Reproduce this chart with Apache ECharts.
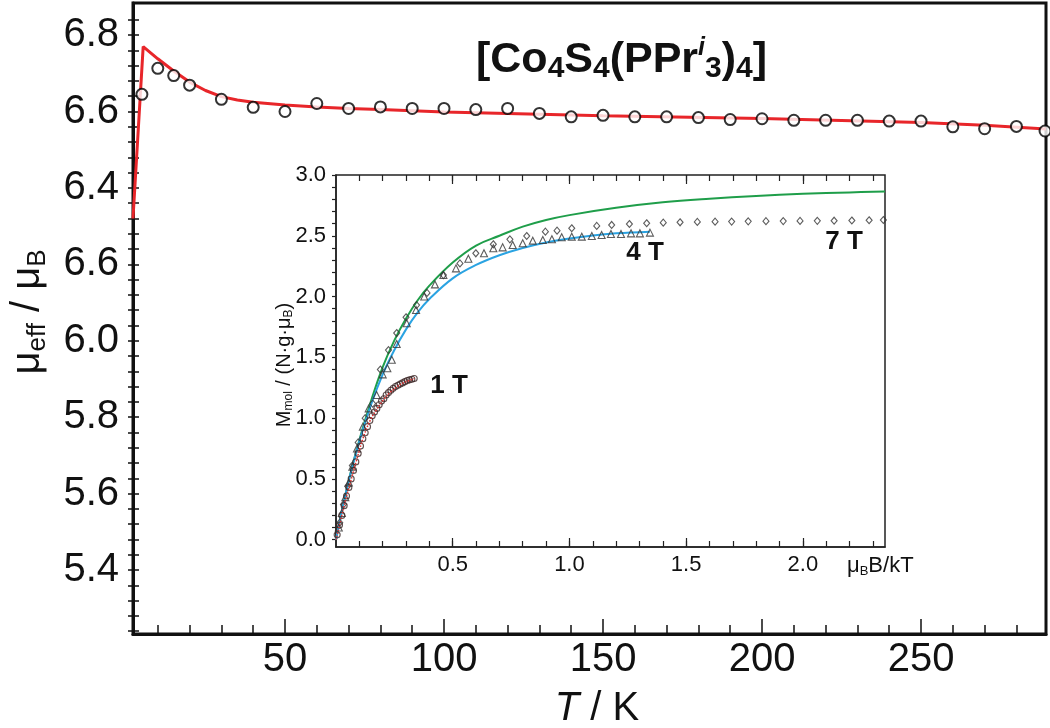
<!DOCTYPE html>
<html><head><meta charset="utf-8">
<script src="https://cdn.jsdelivr.net/npm/echarts@6/dist/echarts.min.js"></script>
<style>html,body{margin:0;padding:0;background:#fff}#c{width:1050px;height:728px}</style>
</head><body><div id="c"></div>
<script>
// ---------- main plot data ----------
const mainT  = [5, 10, 15, 20, 30, 40, 50, 60, 70, 80, 90, 100, 110, 120, 130, 140, 150, 160, 170, 180, 190, 200, 210, 220, 230, 240, 250, 260, 270, 280, 289];
const mainMu = [6.645, 6.713, 6.694, 6.669, 6.632, 6.611, 6.600, 6.621, 6.608, 6.612, 6.608, 6.608, 6.605, 6.608, 6.595, 6.586, 6.590, 6.586, 6.586, 6.584, 6.579, 6.581, 6.577, 6.577, 6.577, 6.575, 6.575, 6.560, 6.555, 6.561, 6.549];
const fitT   = [2.2, 5.4, 10, 15, 20, 25, 30, 35, 40, 50, 60, 70, 80, 100, 120, 150, 200, 250, 270, 289.3];
const fitMu  = [6.32, 6.77, 6.738, 6.706, 6.677, 6.655, 6.639, 6.630, 6.624, 6.617, 6.612, 6.608, 6.605, 6.599, 6.595, 6.589, 6.582, 6.571, 6.564, 6.554];
const mainXLabelValues = [50, 100, 150, 200, 250];
const mainYLabelValues = [5.4, 5.6, 5.8, 6.0, 6.2, 6.4, 6.6, 6.8];
const mainYLabelTexts  = ["5.4", "5.6", "5.8", "6.0", "6.6", "6.4", "6.6", "6.8"];

// ---------- inset data ----------
const data1T = [[0.005,0.04],[0.015,0.12],[0.025,0.2],[0.035,0.28],[0.045,0.36],[0.055,0.43],[0.065,0.5],[0.075,0.57],[0.085,0.64],[0.095,0.71],[0.105,0.77],[0.115,0.83],[0.125,0.88],[0.135,0.93],[0.145,0.98],[0.155,1.02],[0.165,1.05],[0.175,1.08],[0.185,1.11],[0.195,1.14],[0.205,1.16],[0.215,1.19],[0.225,1.21],[0.235,1.23],[0.245,1.245],[0.255,1.26],[0.265,1.27],[0.275,1.28],[0.285,1.29],[0.295,1.3],[0.305,1.31],[0.315,1.315],[0.325,1.32],[0.335,1.326]];
const fit1T  = [[0,0],[0.02,0.16],[0.04,0.32],[0.06,0.46],[0.088,0.653],[0.117,0.84],[0.146,0.98],[0.174,1.07],[0.203,1.15],[0.231,1.21],[0.26,1.255],[0.288,1.29],[0.317,1.312],[0.336,1.326]];
const data4T = [[0.012,0.1],[0.025,0.22],[0.04,0.35],[0.055,0.47],[0.07,0.6],[0.09,0.75],[0.115,0.93],[0.14,1.08],[0.174,1.19],[0.2,1.36],[0.22,1.41],[0.239,1.48],[0.26,1.61],[0.303,1.78],[0.343,1.89],[0.378,2.0],[0.424,2.1],[0.46,2.177],[0.514,2.232],[0.567,2.311],[0.634,2.356],[0.674,2.397],[0.714,2.405],[0.757,2.424],[0.8,2.438],[0.843,2.46],[0.886,2.465],[0.925,2.471],[0.967,2.488],[1.01,2.493],[1.053,2.493],[1.096,2.498],[1.138,2.507],[1.178,2.515],[1.221,2.515],[1.264,2.52],[1.302,2.52],[1.345,2.526]];
const fit4T  = [[0,0],[0.05,0.45],[0.1,0.81],[0.15,1.11],[0.2,1.36],[0.25,1.56],[0.3,1.73],[0.35,1.87],[0.4,1.98],[0.5,2.15],[0.6,2.26],[0.7,2.34],[0.8,2.40],[0.9,2.445],[1.0,2.478],[1.1,2.503],[1.2,2.52],[1.345,2.534]];
const data7T = [[0.016,0.14],[0.032,0.29],[0.05,0.44],[0.07,0.61],[0.095,0.8],[0.125,1.0],[0.157,1.12],[0.19,1.4],[0.225,1.56],[0.26,1.7],[0.3,1.83],[0.345,1.93],[0.39,2.03],[0.46,2.177],[0.531,2.273],[0.599,2.356],[0.674,2.43],[0.745,2.471],[0.817,2.498],[0.897,2.534],[0.947,2.542],[1.01,2.562],[1.117,2.581],[1.181,2.589],[1.257,2.597],[1.331,2.603],[1.402,2.608],[1.474,2.611],[1.548,2.614],[1.624,2.616],[1.695,2.617],[1.766,2.619],[1.842,2.62],[1.916,2.621],[1.988,2.622],[2.062,2.623],[2.134,2.624],[2.21,2.626],[2.284,2.628],[2.345,2.63]];
const fit7T  = [[0,0],[0.05,0.45],[0.1,0.82],[0.15,1.14],[0.2,1.42],[0.25,1.64],[0.3,1.82],[0.35,1.97],[0.4,2.09],[0.5,2.28],[0.6,2.42],[0.7,2.50],[0.8,2.575],[0.9,2.63],[1.0,2.67],[1.2,2.73],[1.4,2.775],[1.6,2.805],[1.8,2.828],[2.0,2.845],[2.2,2.857],[2.352,2.865]];
const insetXLabelValues = [0.5, 1.0, 1.5, 2.0];
const insetYLabelValues = [0, 0.5, 1.0, 1.5, 2.0, 2.5, 3.0];

// minor tick positions
const mainXMinor = []; for (let i = 1; i <= 28; i++) mainXMinor.push(i * 10);
const mainYMinor = []; for (let i = 131; i <= 171; i++) mainYMinor.push(+(i * 0.04).toFixed(2));
const insetXMinor = []; for (let i = 1; i <= 23; i++) insetXMinor.push(+(i * 0.1).toFixed(1));
const insetYMinor = []; for (let i = 0; i <= 30; i++) insetYMinor.push(+(i * 0.1).toFixed(1));

const FONT = '"Liberation Sans", Arial, Helvetica, sans-serif';
const BLACK = '#111';
const chart = echarts.init(document.getElementById('c'));

function tickAxis(extra) {
  return Object.assign({
    type: 'value', splitLine: { show: false },
    axisLine: { show: false, onZero: false },
    axisLabel: { show: false }
  }, extra);
}

const option = {
  animation: false,
  backgroundColor: '#fff',
  grid: [
    { left: 133, top: 3, right: 4, bottom: 94, show: true, borderColor: BLACK, borderWidth: 3, containLabel: false, outerBoundsMode: 'none' },
    { left: 336, top: 175, right: 165, bottom: 181, show: true, borderColor: '#222', borderWidth: 1.5, containLabel: false, outerBoundsMode: 'none' }
  ],
  xAxis: [
    tickAxis({ gridIndex: 0, min: 2.2, max: 289.3, position: 'bottom',
      axisLine: { show: true, onZero: false, lineStyle: { color: BLACK, width: 3 } },
      axisTick: { show: true, inside: true, length: 15, customValues: mainXLabelValues, lineStyle: { color: BLACK, width: 1.5 } },
      axisLabel: { show: true, customValues: mainXLabelValues, margin: 6, fontSize: 40, color: BLACK, fontFamily: FONT } }),
    tickAxis({ gridIndex: 0, min: 2.2, max: 289.3, position: 'bottom',
      axisTick: { show: true, inside: true, length: 9, customValues: mainXMinor, lineStyle: { color: BLACK, width: 1.5 } } }),
    tickAxis({ gridIndex: 1, min: 0, max: 2.352, position: 'bottom',
      axisLine: { show: true, onZero: false, lineStyle: { color: '#222', width: 1.5 } },
      axisTick: { show: true, inside: true, length: 9, customValues: insetXLabelValues, lineStyle: { color: '#222', width: 1.2 } },
      axisLabel: { show: true, customValues: insetXLabelValues, margin: 7, fontSize: 22, color: BLACK, fontFamily: FONT, formatter: v => v.toFixed(1) } }),
    tickAxis({ gridIndex: 1, min: 0, max: 2.352, position: 'bottom',
      axisTick: { show: true, inside: true, length: 6, customValues: insetXMinor, lineStyle: { color: '#222', width: 1.2 } } }),
    tickAxis({ gridIndex: 1, min: 0, max: 2.352, position: 'top',
      axisTick: { show: true, inside: true, length: 9, customValues: insetXLabelValues, lineStyle: { color: '#222', width: 1.2 } } }),
    tickAxis({ gridIndex: 1, min: 0, max: 2.352, position: 'top',
      axisTick: { show: true, inside: true, length: 6, customValues: insetXMinor, lineStyle: { color: '#222', width: 1.2 } } })
  ],
  yAxis: [
    tickAxis({ gridIndex: 0, min: 5.2325, max: 6.884, position: 'left',
      axisLine: { show: true, onZero: false, lineStyle: { color: BLACK, width: 3 } },
      axisTick: { show: true, inside: false, length: 5, customValues: mainYMinor, lineStyle: { color: BLACK, width: 1.5 } },
      axisLabel: { show: true, customValues: mainYLabelValues, margin: 14, fontSize: 40, color: BLACK, fontFamily: FONT,
        formatter: v => { const i = mainYLabelValues.findIndex(x => Math.abs(x - v) < 1e-6); return i >= 0 ? mainYLabelTexts[i] : ''; } } }),
    tickAxis({ gridIndex: 0, min: 5.2325, max: 6.884, position: 'left',
      axisTick: { show: true, inside: true, length: 6, customValues: mainYMinor, lineStyle: { color: BLACK, width: 1.5 } } }),
    tickAxis({ gridIndex: 1, min: -0.06, max: 3.0, position: 'left',
      axisLine: { show: true, onZero: false, lineStyle: { color: '#222', width: 1.5 } },
      axisTick: { show: true, inside: false, length: 4, customValues: insetYMinor, lineStyle: { color: '#222', width: 1.2 } },
      axisLabel: { show: true, customValues: insetYLabelValues, margin: 10, fontSize: 22, color: BLACK, fontFamily: FONT, formatter: v => v.toFixed(1) } })
  ],
  series: [
    { type: 'line', xAxisIndex: 0, yAxisIndex: 0, data: fitT.map((t, i) => [t, fitMu[i]]), showSymbol: false, smooth: false,
      lineStyle: { color: '#e8262a', width: 3 }, z: 2 },
    { type: 'scatter', xAxisIndex: 0, yAxisIndex: 0, data: mainT.map((t, i) => [t, mainMu[i]]), symbol: 'circle', symbolSize: 11,
      itemStyle: { color: '#fff', borderColor: '#000', borderWidth: 2 }, z: 3 },
    { type: 'line', xAxisIndex: 2, yAxisIndex: 2, data: fit7T, showSymbol: false, smooth: 0.4, lineStyle: { color: '#1f9e4a', width: 2 }, z: 4 },
    { type: 'line', xAxisIndex: 2, yAxisIndex: 2, data: fit4T, showSymbol: false, smooth: 0.4, lineStyle: { color: '#2aa3e2', width: 2 }, z: 4 },
    { type: 'scatter', xAxisIndex: 2, yAxisIndex: 2, data: data7T, symbol: 'diamond', symbolSize: [6, 7],
      itemStyle: { color: 'rgba(255,255,255,0)', borderColor: '#333', borderWidth: 1.1 }, z: 5 },
    { type: 'scatter', xAxisIndex: 2, yAxisIndex: 2, data: data4T, symbol: 'triangle', symbolSize: 7,
      itemStyle: { color: 'rgba(255,255,255,0)', borderColor: '#333', borderWidth: 1.1 }, z: 5 },
    { type: 'scatter', xAxisIndex: 2, yAxisIndex: 2, data: data1T, symbol: 'circle', symbolSize: 6,
      itemStyle: { color: 'rgba(255,255,255,0)', borderColor: '#3a2424', borderWidth: 1.1 }, z: 5 },
    { type: 'line', xAxisIndex: 2, yAxisIndex: 2, data: fit1T, showSymbol: false, smooth: 0.4,
      lineStyle: { color: '#e03030', width: 1.5, type: 'dotted' }, z: 6 }
  ],
  graphic: [
    { type: 'text', x: 476, y: 60, z: 10, style: {
        text: '{m|[Co}{s|4}{m|S}{s|4}{m|(PPr}{i|i}{s|3}{m|)}{s|4}{m|]}',
        align: 'left', verticalAlign: 'middle', fill: BLACK, fontFamily: FONT,
        rich: {
          m: { fontSize: 43, fontWeight: 'bold', fontFamily: FONT, fill: BLACK, lineHeight: 48, verticalAlign: 'middle' },
          s: { fontSize: 30, fontWeight: 'bold', fontFamily: FONT, fill: BLACK, lineHeight: 28, verticalAlign: 'bottom' },
          i: { fontSize: 25, fontWeight: 'bold', fontStyle: 'italic', fontFamily: FONT, fill: BLACK, lineHeight: 28, verticalAlign: 'top' }
        } } },
    { type: 'text', x: 28, y: 312, rotation: Math.PI / 2, z: 10, style: {
        text: '{m|μ}{s|eff}{m| / μ}{s|B}', align: 'center', verticalAlign: 'middle', fill: BLACK, fontFamily: FONT,
        rich: {
          m: { fontSize: 40, fontFamily: FONT, fill: BLACK, lineHeight: 46, verticalAlign: 'middle' },
          s: { fontSize: 26, fontFamily: FONT, fill: BLACK, lineHeight: 24, verticalAlign: 'bottom' }
        } } },
    { type: 'text', x: 597, y: 709, z: 10, style: {
        text: '{it|T}{m| / K}', align: 'center', verticalAlign: 'middle', fill: BLACK, fontFamily: FONT,
        rich: {
          it: { fontSize: 40, fontStyle: 'italic', fontFamily: FONT, fill: BLACK },
          m: { fontSize: 40, fontFamily: FONT, fill: BLACK }
        } } },
    { type: 'text', x: 284, y: 365, rotation: Math.PI / 2, z: 10, style: {
        text: '{m|M}{s|mol}{m| / (N·g·μ}{s|B}{m|)}', align: 'center', verticalAlign: 'middle', fill: BLACK, fontFamily: FONT,
        rich: {
          m: { fontSize: 20, fontFamily: FONT, fill: BLACK, lineHeight: 22, verticalAlign: 'middle' },
          s: { fontSize: 12, fontFamily: FONT, fill: BLACK, lineHeight: 13, verticalAlign: 'bottom' }
        } } },
    { type: 'text', x: 847, y: 566, z: 10, style: {
        text: '{m|μ}{s|B}{m|B/kT}', align: 'left', verticalAlign: 'middle', fill: BLACK, fontFamily: FONT,
        rich: {
          m: { fontSize: 22, fontFamily: FONT, fill: BLACK, lineHeight: 24, verticalAlign: 'middle' },
          s: { fontSize: 13, fontFamily: FONT, fill: BLACK, lineHeight: 14, verticalAlign: 'bottom' }
        } } },
    { type: 'text', x: 449, y: 386, z: 10, style: { text: '1 T', align: 'center', verticalAlign: 'middle', fontSize: 26, fontWeight: 'bold', fontFamily: FONT, fill: BLACK } },
    { type: 'text', x: 645, y: 253, z: 10, style: { text: '4 T', align: 'center', verticalAlign: 'middle', fontSize: 26, fontWeight: 'bold', fontFamily: FONT, fill: BLACK } },
    { type: 'text', x: 844, y: 242, z: 10, style: { text: '7 T', align: 'center', verticalAlign: 'middle', fontSize: 26, fontWeight: 'bold', fontFamily: FONT, fill: BLACK } }
  ]
};
chart.setOption(option);
</script>
</body></html>
